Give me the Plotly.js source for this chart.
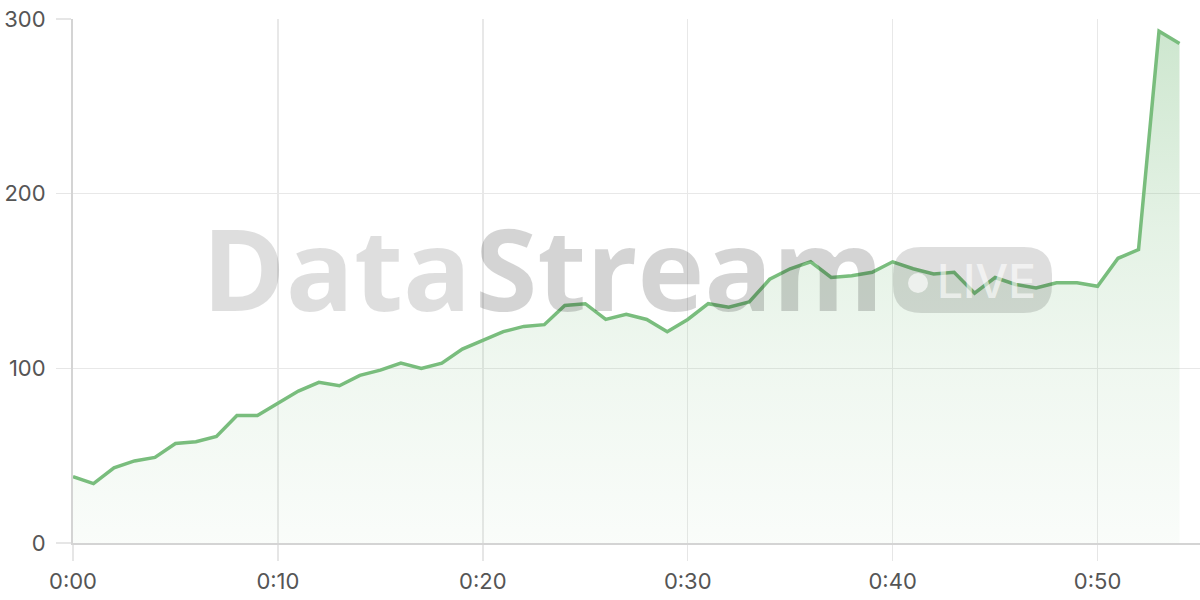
<!DOCTYPE html>
<html>
<head>
<meta charset="utf-8">
<script src="https://cdn.plot.ly/plotly-3.0.1.min.js"></script>
<style>
  html, body { margin: 0; padding: 0; background: #fff; }
  #chart { width: 1200px; height: 600px; }
</style>
</head>
<body>
<div id="chart"></div>
<script>
// minutes since start
var minutes = [0, 1, 2, 3, 4, 5, 6, 7, 8, 9, 10, 11, 12, 13, 14, 15, 16, 17, 18, 19,
               20, 21, 22, 23, 24, 25, 26, 27, 28, 29, 30, 31, 32, 33, 34, 35, 36, 37, 38, 39,
               40, 41, 42, 43, 44, 45, 46, 47, 48, 49, 50, 51, 52, 53, 54];
var values = [38, 34, 43, 47, 49, 57, 58, 61, 73, 73, 80, 87, 92, 90, 96, 99, 103, 100, 103, 111,
              116, 121, 124, 125, 136, 137, 128, 131, 128, 121, 128, 137, 135, 138, 151, 157, 161, 152, 153, 155,
              161, 157, 154, 155, 143, 152, 148, 146, 149, 149, 147, 163, 168, 293, 286];
var xTickVals = [0, 10, 20, 30, 40, 50];
var xTickText = ['0:00', '0:10', '0:20', '0:30', '0:40', '0:50'];
var yTickVals = [0, 100, 200, 300];

var lineColor = '#79bd7d';

// plot area in pixels, used for the watermark only
var L = 73, T = 19, W = 1127, H = 524;
function px(x) { return (x - L) / W; }
function py(y) { return (T + H - y) / H; }

function pillPath(x0, y0, x1, y1, r) {
    var rx = r / W, ry = r / H;
    var a = px(x0), b = px(x1), top = py(y0), bot = py(y1);
    return 'M' + (a + rx) + ',' + top +
        ' L' + (b - rx) + ',' + top +
        ' Q' + b + ',' + top + ' ' + b + ',' + (top - ry) +
        ' L' + b + ',' + (bot + ry) +
        ' Q' + b + ',' + bot + ' ' + (b - rx) + ',' + bot +
        ' L' + (a + rx) + ',' + bot +
        ' Q' + a + ',' + bot + ' ' + a + ',' + (bot + ry) +
        ' L' + a + ',' + (top - ry) +
        ' Q' + a + ',' + top + ' ' + (a + rx) + ',' + top + ' Z';
}

var trace = {
    x: minutes,
    y: values,
    type: 'scatter',
    mode: 'lines',
    line: { color: lineColor, width: 3.5 },
    fill: 'tozeroy',
    fillgradient: {
        type: 'vertical',
        start: 0,
        stop: 300,
        colorscale: [[0, 'rgba(121,189,125,0.04)'], [0.35, 'rgba(121,189,125,0.12)'],
                     [0.6, 'rgba(121,189,125,0.2)'], [1, 'rgba(121,189,125,0.38)']]
    },
    hoverinfo: 'skip'
};

var tickFont = { family: 'Inter, "Open Sans", sans-serif', size: 22, color: '#555' };

var layout = {
    width: 1200,
    height: 600,
    margin: { l: L, r: 0, t: T, b: 57 },
    paper_bgcolor: '#fff',
    plot_bgcolor: '#fff',
    showlegend: false,
    xaxis: {
        range: [0, 55],
        tickvals: xTickVals,
        ticktext: xTickText,
        ticks: 'outside',
        ticklen: 16,
        tickcolor: '#e6e6e6',
        tickwidth: 1.5,
        showgrid: true,
        gridcolor: '#e8e8e8',
        gridwidth: 1.5,
        showline: true,
        linecolor: '#d4d4d4',
        linewidth: 2,
        zeroline: false,
        tickfont: tickFont,
        ticklabelstandoff: 2
    },
    yaxis: {
        range: [0, 300],
        tickvals: yTickVals,
        ticks: 'outside',
        ticklen: 15,
        tickcolor: '#e6e6e6',
        tickwidth: 1.5,
        showgrid: true,
        gridcolor: '#e8e8e8',
        gridwidth: 1.5,
        showline: true,
        linecolor: '#d4d4d4',
        linewidth: 2,
        zeroline: false,
        tickfont: tickFont,
        ticklabelstandoff: 6
    },
    shapes: [
        {
            type: 'path', xref: 'paper', yref: 'paper', layer: 'above',
            path: pillPath(893, 247, 1052, 313, 28),
            fillcolor: 'rgba(0,0,0,0.13)', line: { width: 0 }
        },
        {
            type: 'circle', xref: 'paper', yref: 'paper', layer: 'above',
            x0: px(908), x1: px(928), y0: py(293), y1: py(273),
            fillcolor: 'rgba(255,255,255,0.65)', line: { width: 0 }
        }
    ],
    annotations: [
        {
            text: 'Data', xref: 'paper', yref: 'paper', x: px(473), y: py(267),
            xanchor: 'right', yanchor: 'middle', showarrow: false,
            font: { family: '"Open Sans", sans-serif', size: 113, weight: 700, color: 'rgba(0,0,0,0.13)' }
        },
        {
            text: 'Stream', xref: 'paper', yref: 'paper', x: px(473), y: py(267),
            xanchor: 'left', yanchor: 'middle', showarrow: false,
            font: { family: '"Open Sans", sans-serif', size: 113, weight: 700, color: 'rgba(0,0,0,0.17)' }
        },
        {
            text: 'LIVE', xref: 'paper', yref: 'paper', x: px(986), y: py(281),
            xanchor: 'center', yanchor: 'middle', showarrow: false,
            font: { family: 'Inter, "Open Sans", sans-serif', size: 46, weight: 500, color: 'rgba(255,255,255,0.62)' }
        }
    ]
};

Plotly.newPlot('chart', [trace], layout, { staticPlot: true, displayModeBar: false });
</script>
</body>
</html>
